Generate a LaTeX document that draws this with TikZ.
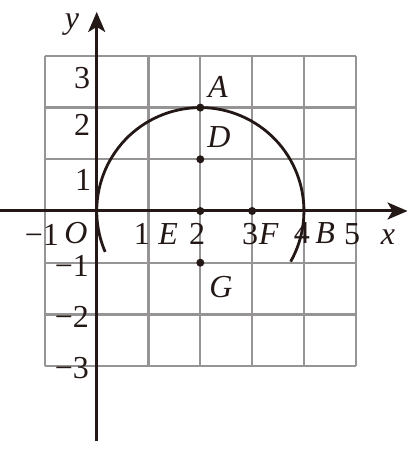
\documentclass[tikz,border=0pt]{standalone}
\usepackage{fontspec}
\setmainfont{Liberation Serif}
\usetikzlibrary{arrows.meta}
\definecolor{ink}{RGB}{35,24,21}
\definecolor{gridc}{RGB}{150,148,148}
\tikzset{
  gridline/.style={draw=gridc, line width=2.3pt},
  axisline/.style={draw=ink, line width=3pt, -{Stealth[length=20pt,width=17pt,inset=5pt]}},
  curve/.style={draw=ink, line width=2.8pt},
  lbl/.style={text=ink, inner sep=0pt, font=\fontsize{32}{32}\selectfont},
  ilbl/.style={text=ink, inner sep=0pt, font=\fontsize{32}{32}\selectfont\itshape},
  dot/.style={fill=ink}
}
\begin{document}
\begin{tikzpicture}[x=51.8pt,y=51.7pt]
\useasboundingbox (-1.867,-4.874) rectangle (6.087,4.081);
\foreach \i in {-1,...,5} \draw[gridline] (\i,-3) -- (\i,3);
\foreach \j in {-3,...,3} \draw[gridline] (-1,\j) -- (5,\j);
\coordinate (xs) at (-1.867,0);
\coordinate (xe) at (6.0,0);
\coordinate (ys) at (0,-4.45);
\coordinate (ye) at (0,3.85);
\draw[axisline] (xs) -- (xe);
\draw[axisline] (ys) -- (ye);
\coordinate (C) at (2,0);
\draw[curve] (C) ++(-29.3:2) arc[start angle=-29.3, end angle=203.3, radius=2];
\fill[dot] (2,2) circle (4pt);
\fill[dot] (2,1) circle (4pt);
\fill[dot] (2,0) circle (4pt);
\fill[dot] (3,0) circle (4pt);
\fill[dot] (2,-1) circle (4pt);
% axis letters
\node[ilbl] (ylab) at (-0.48,3.60) {y};
\node[ilbl] (xlab) at (5.62,-0.50) {x};
% y tick labels
\node[lbl] (y3) at (-0.28,2.57) {3};
\node[lbl] (y2) at (-0.28,1.66) {2};
\node[lbl] (y1) at (-0.26,0.60) {1};
\node[lbl] (ym1) at (-0.48,-1.06) {−1};
\node[lbl] (ym2) at (-0.48,-2.04) {−2};
\node[lbl] (ym3) at (-0.48,-3.04) {−3};
% x tick labels
\node[lbl] (xm1) at (-1.06,-0.46) {−1};
\node[ilbl] (O) at (-0.40,-0.43) {O};
\node[lbl] (x1) at (0.87,-0.44) {1};
\node[ilbl] (E) at (1.38,-0.44) {E};
\node[lbl] (x2) at (1.94,-0.44) {2};
\node[lbl] (x3) at (2.96,-0.44) {3};
\node[ilbl] (F) at (3.32,-0.44) {F};
\node[lbl] (x4) at (3.96,-0.42) {4};
\node[ilbl] (B) at (4.41,-0.42) {B};
\node[lbl] (x5) at (4.93,-0.44) {5};
% point labels
\node[ilbl] (A) at (2.34,2.40) {A};
\node[ilbl] (D) at (2.36,1.43) {D};
\node[ilbl] (G) at (2.40,-1.47) {G};
\end{tikzpicture}
\end{document}
